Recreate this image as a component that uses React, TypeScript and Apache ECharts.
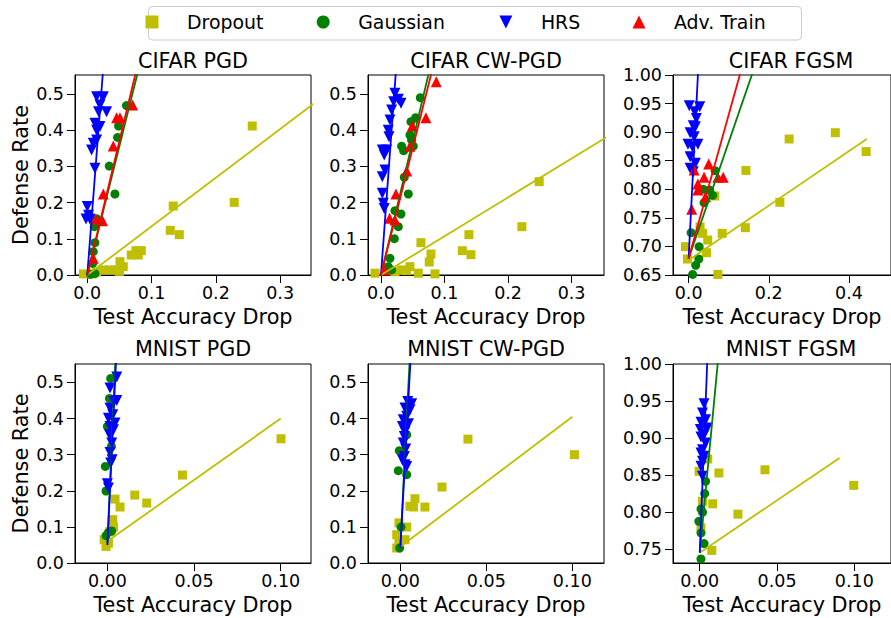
import React, { useEffect, useRef } from 'react';
import * as echarts from 'echarts';

const methods = ['Dropout', 'Gaussian', 'HRS', 'Adv. Train'];
const panelTitles = ['CIFAR PGD', 'CIFAR CW-PGD', 'CIFAR FGSM', 'MNIST PGD', 'MNIST CW-PGD', 'MNIST FGSM'];
const xLabel = 'Test Accuracy Drop';
const yLabel = 'Defense Rate';

// ---------- CIFAR PGD ----------
const cifarPgdDropout = [[0.2566,0.4116],[0.1337,0.1906],[0.2286,0.2007],[0.1291,0.1234],[0.1431,0.1114],[0.0684,0.0552],[0.0757,0.0672],[0.084,0.0672],[0.0793,0.0552],[0.0508,0.0368],[0.056,0.023],[0.043,0.014],[0.035,0.014],[0.025,0.014],[0.0145,0.008],[0.007,0.003],[-0.006,0.003],[0.05,0.01]];
const cifarPgdGaussian = [[0.061,0.468],[0.0487,0.4116],[0.0472,0.38],[0.0342,0.301],[0.043,0.2238],[0.0145,0.1556],[0.0109,0.1335],[0.0119,0.0893],[0.0093,0.0645],[0.0083,0.032],[0.0119,0.004],[0.005,0.002]];
const cifarPgdHrs = [[0.0145,0.4926],[0.0249,0.4926],[0.0197,0.4696],[0.03,0.4512],[0.0176,0.4512],[0.0119,0.419],[0.0197,0.41],[0.0145,0.4],[0.0093,0.364],[0.0067,0.345],[0.0145,0.373],[0.0119,0.295],[0.0,0.189],[0.002,0.165],[0.004,0.155],[-0.002,0.155]];
const cifarPgdAdv = [[0.0705,0.4696],[0.0456,0.4346],[0.0508,0.4346],[0.0404,0.3564],[0.0249,0.2238],[0.0135,0.1538],[0.0238,0.15],[0.0093,0.046]];
const cifarPgdFits = { Dropout: [[0,0],[0.36,0.484]], Gaussian: [[0,0],[0.08,0.57]], HRS: [[0,0],[0.025,0.576]], 'Adv. Train': [[0,0],[0.08,0.593]] };

// ---------- CIFAR CW-PGD ----------
const cifarCwDropout = [[0.249,0.2578],[0.2218,0.1335],[0.1384,0.1114],[0.128,0.0672],[0.1416,0.0562],[0.0629,0.0893],[0.0787,0.058],[0.076,0.0359],[0.0456,0.023],[0.0325,0.014],[0.0587,0.005],[0.085,0.003],[-0.0094,0.005],[0.022,0.009],[0.04,0.012]];
const cifarCwGaussian = [[0.0619,0.4899],[0.0545,0.4346],[0.0472,0.4236],[0.0456,0.3867],[0.0482,0.373],[0.0509,0.356],[0.0325,0.356],[0.0357,0.3435],[0.0367,0.27],[0.043,0.2238],[0.0315,0.1685],[0.022,0.1777],[0.0273,0.1335],[0.021,0.1004],[0.0142,0.046],[0.0115,0.023],[0.0168,0.014]];
const cifarCwHrs = [[0.022,0.5018],[0.0273,0.4853],[0.02,0.4788],[0.0315,0.4742],[0.0168,0.4558],[0.0142,0.4282],[0.0115,0.4],[0.0126,0.382],[0.0089,0.345],[0.0052,0.3315],[0.0021,0.345],[0.0063,0.29],[0.0021,0.2716],[0.0021,0.2256],[0.0037,0.198],[0.0052,0.184]];
const cifarCwAdv = [[0.087,0.534],[0.0708,0.4346],[0.0493,0.4116],[0.0456,0.356],[0.0404,0.287],[0.0236,0.2238],[0.0136,0.1565],[0.022,0.152],[0.0052,0.014]];
const cifarCwFits = { Dropout: [[0,0],[0.36,0.386]], Gaussian: [[0,0],[0.08,0.593]], HRS: [[0,0],[0.025,0.598]], 'Adv. Train': [[0,0],[0.085,0.597]] };

// ---------- CIFAR FGSM ----------
const cifarFgsmDropout = [[0.366,0.899],[0.2508,0.888],[0.443,0.866],[0.143,0.833],[0.2277,0.7772],[0.1415,0.7328],[0.0838,0.7229],[0.0654,0.7883],[0.0285,0.734],[0.0346,0.7229],[0.0477,0.7112],[0.0446,0.689],[-0.0077,0.6996],[-0.003,0.678],[0.073,0.651]];
const cifarFgsmGaussian = [[0.0662,0.8326],[0.0369,0.8],[0.0523,0.7988],[0.06,0.7894],[0.0385,0.7766],[0.0062,0.724],[0.0262,0.6996],[0.0254,0.678],[0.0177,0.667],[0.01,0.651]];
const cifarFgsmHrs = [[0.0015,0.946],[0.0277,0.9446],[0.0154,0.9358],[0.0192,0.924],[0.0115,0.911],[0.0169,0.9096],[0.0038,0.899],[0.0138,0.892],[-0.0015,0.879],[0.0231,0.879],[0.0092,0.8746],[0.0038,0.857],[0.0169,0.8454],[0.0038,0.8366],[0.0115,0.8308]];
const cifarFgsmAdv = [[0.05,0.8443],[0.0138,0.8337],[0.0385,0.821],[0.0862,0.821],[0.073,0.821],[0.0231,0.8093],[0.0231,0.7988],[0.0423,0.787],[0.0077,0.765]];
const cifarFgsmFits = { Dropout: [[0,0.676],[0.4446,0.888]], Gaussian: [[0,0.679],[0.168,1.021]], HRS: [[0,0.679],[0.025,1.026]], 'Adv. Train': [[0,0.679],[0.136,1.021]] };

// ---------- MNIST PGD ----------
const mnistPgdDropout = [[0.1002,0.344],[0.0433,0.2435],[0.0158,0.188],[0.0227,0.166],[0.0044,0.177],[0.0073,0.155],[0.0031,0.12],[0.0035,0.0996],[0.0015,0.0876],[-0.0019,0.0646],[-0.0008,0.046],[0.0006,0.055]];
const mnistPgdGaussian = [[0.0019,0.511],[0.0012,0.4557],[0.0,0.378],[0.0023,0.3229],[-0.0012,0.2675],[-0.0008,0.1993],[0.0025,0.0886],[0.0006,0.085],[-0.0008,0.0756]];
const mnistPgdHrs = [[0.0054,0.5148],[0.0015,0.4843],[0.0054,0.45],[0.0038,0.4474],[0.0015,0.429],[0.0031,0.4105],[0.0006,0.401],[0.0044,0.3875],[0.0015,0.378],[0.0035,0.369],[0.0012,0.355],[0.0025,0.332],[0.0015,0.306],[0.0027,0.286],[0.0019,0.2767],[0.0,0.2195],[0.0006,0.2075]];
const mnistPgdFits = { Dropout: [[0,0.06],[0.1,0.4]], Gaussian: [[0,0.055],[0.0046,0.56]], HRS: [[0,0.05],[0.005,0.56]] };

// ---------- MNIST CW-PGD ----------
const mnistCwDropout = [[0.1012,0.3],[0.0393,0.343],[0.0242,0.2103],[0.0085,0.178],[0.0056,0.157],[0.0076,0.155],[0.0143,0.155],[-0.0008,0.111],[0.0037,0.0996],[-0.0021,0.0784],[0.0027,0.0646],[-0.0021,0.0415],[-0.0008,0.06]];
const mnistCwGaussian = [[0.0037,0.355],[0.0027,0.378],[-0.0006,0.311],[-0.0012,0.2555],[0.0037,0.2445],[0.0004,0.0996],[-0.0004,0.0415]];
const mnistCwHrs = [[0.0043,0.4474],[0.0066,0.441],[0.0027,0.429],[0.0056,0.4244],[0.0037,0.406],[0.0017,0.3967],[0.0047,0.3856],[0.0012,0.378],[0.0027,0.3644],[0.0023,0.3506],[0.0017,0.332],[0.0031,0.3155],[0.0023,0.295],[0.0012,0.286],[0.0027,0.272],[0.0037,0.2675]];
const mnistCwFits = { Dropout: [[0,0.045],[0.1,0.405]], Gaussian: [[0,0.045],[0.0054,0.56]], HRS: [[0,0.0415],[0.0059,0.56]] };

// ---------- MNIST FGSM ----------
const mnistFgsmDropout = [[0.0996,0.836],[0.0422,0.857],[0.0124,0.8527],[0.0052,0.8716],[-0.0004,0.855],[0.0084,0.811],[0.0247,0.797],[0.0018,0.8144],[0.0008,0.7784],[0.0078,0.748]];
const mnistFgsmGaussian = [[0.0038,0.8414],[0.0032,0.8248],[0.0008,0.804],[0.0018,0.7995],[-0.0006,0.7874],[0.0008,0.7716],[0.0028,0.7572],[0.0008,0.7365]];
const mnistFgsmHrs = [[0.0028,0.9464],[0.0018,0.9338],[0.0038,0.9248],[0.0008,0.9212],[0.0048,0.9135],[0.0004,0.9113],[0.0028,0.9045],[0.0008,0.9014],[0.0038,0.8932],[0.0018,0.8842],[0.0008,0.8797],[0.0028,0.8752],[0.0018,0.8685],[0.0008,0.8617],[0.0018,0.8482]];
const mnistFgsmFits = { Dropout: [[0,0.745],[0.0904,0.873]], Gaussian: [[0,0.745],[0.012,1.009]], HRS: [[0,0.745],[0.005,1.011]] };

// ---------- axes ----------
const xRanges = [[-0.0191,0.348],[-0.0204,0.351],[-0.039,0.505],[-0.0187,0.1175],[-0.0188,0.1184],[-0.0173,0.1237]];
const yRanges = [[0,0.5525],[0,0.5525],[0.65,1.0],[0,0.551],[0,0.551],[0.731,1.0]];
const xTicksCifar = [0, 0.1, 0.2, 0.3];
const xTicksCifarFgsm = [0, 0.2, 0.4];
const xTicksMnist = [0, 0.05, 0.1];
const yTicksRate = [0, 0.1, 0.2, 0.3, 0.4, 0.5];
const yTicksCifarFgsm = [0.65, 0.7, 0.75, 0.8, 0.85, 0.9, 0.95, 1.0];
const yTicksMnistFgsm = [0.75, 0.8, 0.85, 0.9, 0.95, 1.0];

const panelScatter = [
  { Dropout: cifarPgdDropout, Gaussian: cifarPgdGaussian, HRS: cifarPgdHrs, 'Adv. Train': cifarPgdAdv },
  { Dropout: cifarCwDropout, Gaussian: cifarCwGaussian, HRS: cifarCwHrs, 'Adv. Train': cifarCwAdv },
  { Dropout: cifarFgsmDropout, Gaussian: cifarFgsmGaussian, HRS: cifarFgsmHrs, 'Adv. Train': cifarFgsmAdv },
  { Dropout: mnistPgdDropout, Gaussian: mnistPgdGaussian, HRS: mnistPgdHrs },
  { Dropout: mnistCwDropout, Gaussian: mnistCwGaussian, HRS: mnistCwHrs },
  { Dropout: mnistFgsmDropout, Gaussian: mnistFgsmGaussian, HRS: mnistFgsmHrs },
];
const panelFits = [cifarPgdFits, cifarCwFits, cifarFgsmFits, mnistPgdFits, mnistCwFits, mnistFgsmFits];
const panelXTicks = [xTicksCifar, xTicksCifar, xTicksCifarFgsm, xTicksMnist, xTicksMnist, xTicksMnist];
const panelYTicks = [yTicksRate, yTicksRate, yTicksCifarFgsm, yTicksRate, yTicksRate, yTicksMnistFgsm];
const panelXDec = [1, 1, 1, 2, 2, 2];
const panelYDec = [1, 1, 2, 1, 1, 2];

// ---------- styling ----------
const FONT = '"DejaVu Sans", sans-serif';
const colors: Record<string, string> = { Dropout: '#bfbf00', Gaussian: '#008000', HRS: '#0000ff', 'Adv. Train': '#ff0000' };
const SQUARE = 'path://M0,0L10,0L10,10L0,10Z';
const TRI_DOWN = 'path://M0,0L10,0L5,10Z';
const TRI_UP = 'path://M5,0L10,10L0,10Z';
const symbols: Record<string, string> = { Dropout: SQUARE, Gaussian: 'circle', HRS: TRI_DOWN, 'Adv. Train': TRI_UP };
const symbolSizes: Record<string, number> = { Dropout: 9, Gaussian: 9, HRS: 11, 'Adv. Train': 11 };

const gridLefts = [75, 368, 673];
const gridTops = [75, 364];
const gridW = 236;
const gridHs = [200, 199];
const legendLefts = [145.5, 316.7, 499.4, 632.5];

export default function App() {
  const ref = useRef<HTMLDivElement>(null);
  useEffect(() => {
    if (!ref.current) return;
    const chart = echarts.init(ref.current, null, { renderer: 'svg' });
    const grids: any[] = [];
    const xAxes: any[] = [];
    const yAxes: any[] = [];
    const series: any[] = [];
    const graphics: any[] = [];

    for (let i = 0; i < 6; i++) {
      const row = Math.floor(i / 3);
      const col = i % 3;
      const left = gridLefts[col];
      const top = gridTops[row];
      const h = gridHs[row];
      grids.push({ left, top, width: gridW, height: h, show: true, borderColor: '#000', borderWidth: 1, backgroundColor: 'transparent' });
      const xd = panelXDec[i];
      const yd = panelYDec[i];
      xAxes.push({
        type: 'value', gridIndex: i, min: xRanges[i][0], max: xRanges[i][1],
        axisLine: { show: true, onZero: false, lineStyle: { color: '#000', width: 1 } },
        axisTick: { show: true, length: 8, customValues: panelXTicks[i], lineStyle: { color: '#000', width: 1 } },
        axisLabel: { customValues: panelXTicks[i], formatter: (v: number) => v.toFixed(xd), margin: 9, fontSize: 17.5, color: '#000', fontFamily: FONT },
        splitLine: { show: false },
        name: xLabel, nameLocation: 'middle', nameGap: 31,
        nameTextStyle: { fontSize: 20.8, color: '#000', fontFamily: FONT },
      });
      yAxes.push({
        type: 'value', gridIndex: i, min: yRanges[i][0], max: yRanges[i][1],
        axisLine: { show: true, onZero: false, lineStyle: { color: '#000', width: 1 } },
        axisTick: { show: true, length: 8, customValues: panelYTicks[i], lineStyle: { color: '#000', width: 1 } },
        axisLabel: { customValues: panelYTicks[i], formatter: (v: number) => v.toFixed(yd), margin: 11, fontSize: 17.5, color: '#000', fontFamily: FONT },
        splitLine: { show: false },
        name: col === 0 ? yLabel : '', nameLocation: 'middle', nameGap: 43.5,
        nameTextStyle: { fontSize: 20.8, color: '#000', fontFamily: FONT },
      });
      const sc: any = panelScatter[i];
      methods.forEach((m) => {
        if (!sc[m]) return;
        series.push({
          type: 'scatter', name: m, xAxisIndex: i, yAxisIndex: i, data: sc[m],
          symbol: symbols[m], symbolSize: symbolSizes[m], itemStyle: { color: colors[m], opacity: 1 },
          clip: true, z: 2, emphasis: { disabled: true },
        });
      });
      const fits: any = panelFits[i];
      methods.forEach((m) => {
        if (!fits[m]) return;
        series.push({
          type: 'line', name: m, xAxisIndex: i, yAxisIndex: i, data: fits[m],
          symbol: 'none', showSymbol: false, lineStyle: { color: colors[m], width: 1.8 }, itemStyle: { color: colors[m] },
          clip: true, z: 3, emphasis: { disabled: true },
        });
      });
      graphics.push({
        type: 'text', x: left + gridW / 2, y: row === 0 ? 61 : 349, silent: true,
        style: { text: panelTitles[i], font: `20.7px ${FONT}`, fill: '#000', align: 'center', verticalAlign: 'middle', textAlign: 'center', textVerticalAlign: 'middle' },
      });
    }

    graphics.unshift({
      type: 'rect', silent: true, z: -1,
      shape: { x: 148.5, y: 6.5, width: 653, height: 33.5, r: 4 },
      style: { fill: 'rgba(255,255,255,0.8)', stroke: '#cccccc', lineWidth: 1 },
    });

    const legends = methods.map((m, i) => ({
      data: [{ name: m, icon: symbols[m] }],
      left: legendLefts[i], top: 12.5, padding: 0,
      itemWidth: 60, itemHeight: 13, symbolKeepAspect: true, selectedMode: false,
      textStyle: { fontSize: 18.9, color: '#000', fontFamily: FONT },
    }));

    chart.setOption({
      animation: false,
      backgroundColor: '#fff',
      textStyle: { fontFamily: FONT },
      grid: grids,
      xAxis: xAxes,
      yAxis: yAxes,
      legend: legends,
      graphic: graphics,
      series,
    });
    return () => chart.dispose();
  }, []);
  return (
    <div style={{ position: 'fixed', left: 0, top: 0, width: 891, height: 618, background: '#fff' }}>
      <div ref={ref} style={{ width: 891, height: 618 }} />
    </div>
  );
}
